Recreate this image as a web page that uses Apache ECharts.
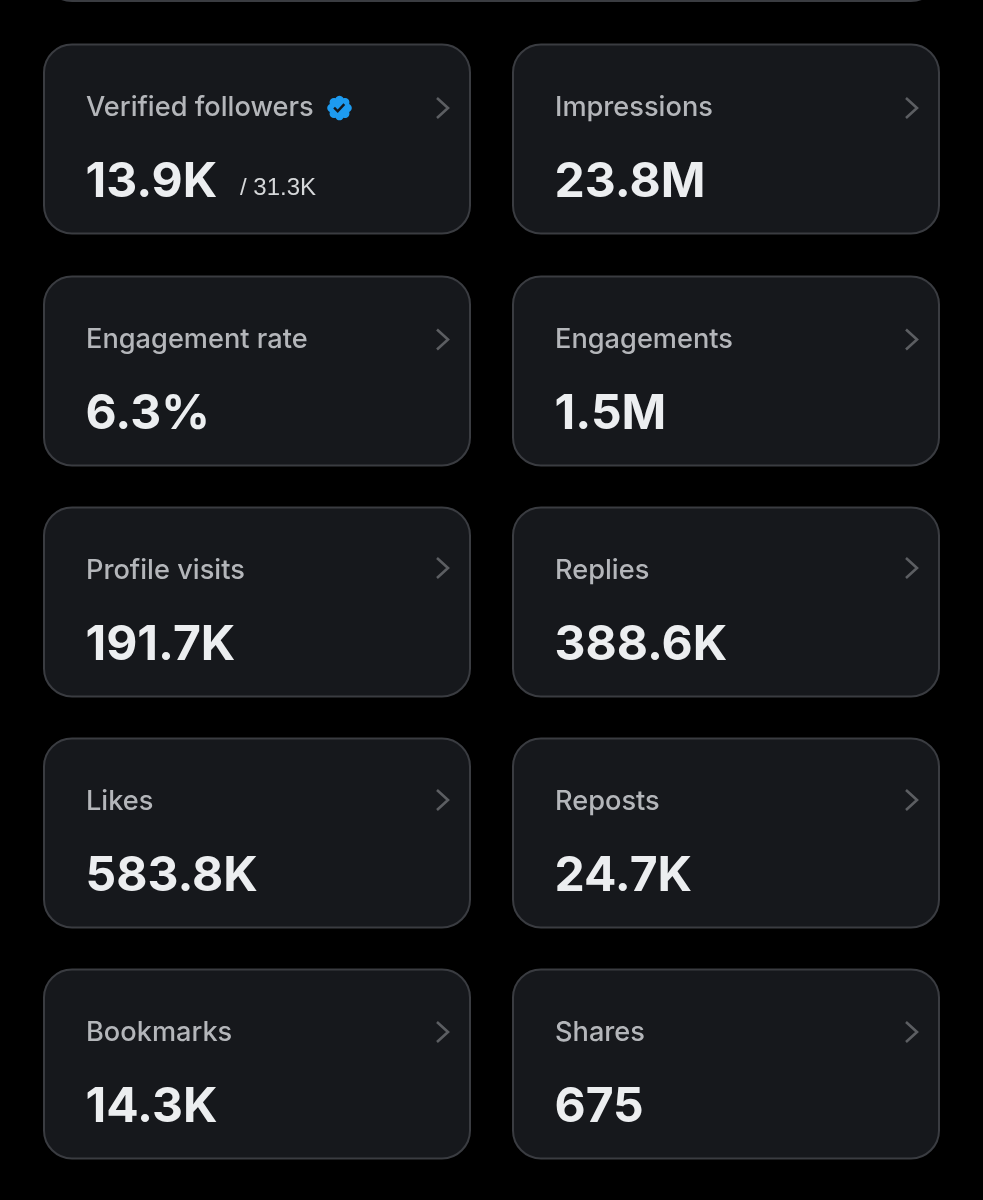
<!DOCTYPE html>
<html>
<head>
<meta charset="utf-8">
<style>
html, body { margin: 0; padding: 0; background: #000; }
#main { width: 983px; height: 1200px; }
</style>
<script src="https://cdn.jsdelivr.net/npm/echarts@6/dist/echarts.min.js"></script>
</head>
<body>
<div id="main"></div>
<script>
var leftLabels = ['Verified followers', 'Engagement rate', 'Profile visits', 'Likes', 'Bookmarks'];
var leftValues = ['13.9K', '6.3%', '191.7K', '583.8K', '14.3K'];
var rightLabels = ['Impressions', 'Engagements', 'Replies', 'Reposts', 'Shares'];
var rightValues = ['23.8M', '1.5M', '388.6K', '24.7K', '675'];
var followersTotal = '/ 31.3K';

var rowTops = [44.5, 276.5, 507.5, 738.5, 969.5];
var chevronYs = [108, 339.5, 568, 800, 1032];
var colLefts = [44, 513];
var cardW = 426, cardH = 189;
var badgePath = 'M22.25 12c0-1.43-.88-2.67-2.19-3.34.46-1.39.2-2.9-.81-3.91s-2.52-1.27-3.91-.81c-.66-1.31-1.91-2.19-3.34-2.19s-2.67.88-3.33 2.19c-1.4-.46-2.91-.2-3.92.81s-1.26 2.52-.8 3.91c-1.31.67-2.2 1.91-2.2 3.34s.89 2.67 2.2 3.34c-.46 1.39-.21 2.9.8 3.91s2.52 1.26 3.91.81c.67 1.31 1.91 2.19 3.34 2.19s2.68-.88 3.34-2.19c1.39.45 2.9.2 3.91-.81s1.27-2.52.81-3.91c1.31-.67 2.19-1.91 2.19-3.34zm-11.71 4.2L6.8 12.46l1.41-1.42 2.26 2.26 4.8-5.23 1.47 1.36-6.2 6.77z';

var fontName = 'Inter, "Noto Sans", sans-serif';

// graphic component has no plain 'path' type, so register the badge as a shape
echarts.graphic.registerShape('verifiedBadge', echarts.graphic.extendPath(badgePath, {}));

function card(x, y, chevronY, label, value) {
    return [
        {
            type: 'rect',
            shape: { x: x, y: y, width: cardW, height: cardH, r: 28 },
            style: { fill: '#16181c', stroke: '#3a3c41', lineWidth: 2 }
        },
        {
            type: 'text', x: x + 42, y: y + 63,
            style: { text: label, fill: '#b4b6ba', font: '500 27.2px ' + fontName, textVerticalAlign: 'middle' }
        },
        {
            type: 'text', x: x + 41.5, y: y + 138.5,
            style: { text: value, fill: '#eceef0', font: '700 48px ' + fontName, textVerticalAlign: 'middle' }
        },
        {
            type: 'polyline',
            shape: { points: [[x + 393, chevronY - 10], [x + 404, chevronY], [x + 393, chevronY + 10]] },
            style: { stroke: '#5c5e62', lineWidth: 2.6, fill: null }
        }
    ];
}

var elements = [
    // bottom edge of the card above, cut off by the top of the screenshot
    {
        type: 'rect',
        shape: { x: 44, y: -200, width: 895, height: 201, r: 28 },
        style: { fill: '#16181c', stroke: '#3a3c41', lineWidth: 2 }
    }
];

for (var i = 0; i < rowTops.length; i++) {
    elements = elements.concat(card(colLefts[0], rowTops[i], chevronYs[i], leftLabels[i], leftValues[i]));
    elements = elements.concat(card(colLefts[1], rowTops[i], chevronYs[i], rightLabels[i], rightValues[i]));
}

// extras of the first card
elements.push({
    type: 'circle',
    shape: { cx: 339.5, cy: 108, r: 7 },
    style: { fill: '#16181c' }
});
elements.push({
    type: 'verifiedBadge',
    x: 325.1, y: 93.6, scaleX: 1.2, scaleY: 1.2,
    style: { fill: '#1d9bf0' }
});
elements.push({
    type: 'text', x: 240, y: 188,
    style: { text: followersTotal, fill: '#d6d8da', font: '400 24px "Liberation Sans", Arial, sans-serif', textVerticalAlign: 'middle' }
});

var myChart = echarts.init(document.getElementById('main'), null, { renderer: 'canvas' });
myChart.setOption({
    backgroundColor: '#000000',
    animation: false,
    graphic: { elements: elements }
});
</script>
</body>
</html>
